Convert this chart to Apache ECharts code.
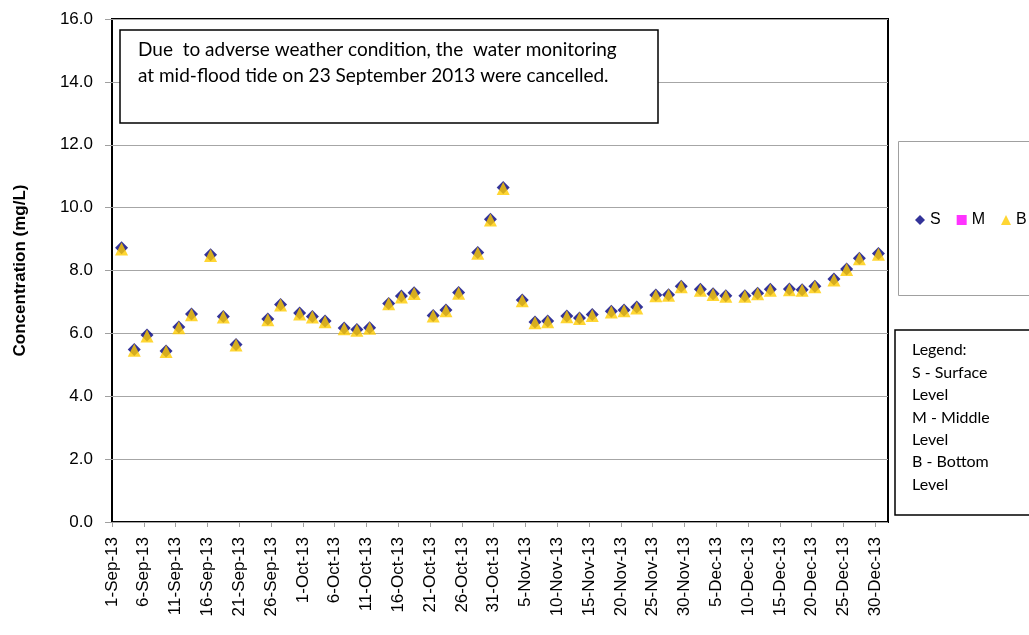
<!DOCTYPE html>
<html>
<head>
<meta charset="utf-8">
<script src="https://cdn.jsdelivr.net/npm/echarts@6/dist/echarts.min.js"></script>
<style>
html,body{margin:0;padding:0;background:#fff;}
#chart{width:1029px;height:635px;}
</style>
</head>
<body>
<div id="chart"></div>
<script>
// ---- Data ----
const sampleDates = [
  '2013-09-02','2013-09-04','2013-09-06','2013-09-09','2013-09-11','2013-09-13','2013-09-16','2013-09-18','2013-09-20',
  '2013-09-25','2013-09-27','2013-09-30',
  '2013-10-02','2013-10-04','2013-10-07','2013-10-09','2013-10-11','2013-10-14','2013-10-16','2013-10-18',
  '2013-10-21','2013-10-23','2013-10-25','2013-10-28','2013-10-30',
  '2013-11-01','2013-11-04','2013-11-06','2013-11-08','2013-11-11','2013-11-13','2013-11-15','2013-11-18',
  '2013-11-20','2013-11-22','2013-11-25','2013-11-27','2013-11-29',
  '2013-12-02','2013-12-04','2013-12-06','2013-12-09','2013-12-11','2013-12-13','2013-12-16','2013-12-18',
  '2013-12-20','2013-12-23','2013-12-25','2013-12-27','2013-12-30'
];
const surfaceValues = [
  8.72,5.49,5.95,5.44,6.20,6.62,8.50,6.54,5.65,
  6.46,6.92,6.65,
  6.54,6.39,6.17,6.12,6.18,6.95,7.19,7.29,
  6.57,6.74,7.30,8.57,9.63,
  10.64,7.06,6.36,6.39,6.55,6.49,6.60,6.70,
  6.74,6.84,7.22,7.23,7.50,
  7.40,7.26,7.20,7.20,7.28,7.40,7.41,7.39,
  7.50,7.73,8.05,8.39,8.54
];
const middleValues = []; // no middle-level points appear in the reference
const bottomValues = [
  8.68,5.46,5.92,5.42,6.18,6.59,8.48,6.52,5.63,
  6.43,6.90,6.62,
  6.52,6.37,6.15,6.10,6.16,6.94,7.16,7.27,
  6.55,6.72,7.28,8.55,9.61,
  10.61,7.04,6.34,6.37,6.53,6.47,6.57,6.68,
  6.72,6.81,7.20,7.21,7.48,
  7.37,7.24,7.18,7.18,7.26,7.37,7.39,7.37,
  7.48,7.70,8.03,8.37,8.52
];
const seriesNames = ['S','M','B'];
const axisStart = '2013-09-01';
const axisEnd = '2014-01-01';
const yTicks = ['0.0','2.0','4.0','6.0','8.0','10.0','12.0','14.0','16.0'];
const noteLines = ['Due  to adverse weather condition, the  water monitoring','at mid-flood tide on 23 September 2013 were cancelled.'];
const legendNoteLines = ['Legend:','S - Surface','Level','M - Middle','Level','B - Bottom','Level'];
const monthNames = ['Jan','Feb','Mar','Apr','May','Jun','Jul','Aug','Sep','Oct','Nov','Dec'];

// ---- helpers ----
function toUTC(s){ const p = s.split('-').map(Number); return Date.UTC(p[0], p[1]-1, p[2]); }
const DAY = 86400000;
const startMs = toUTC(axisStart);
function dayIndex(s){ return (toUTC(s) - startMs) / DAY; }
function dayLabel(v){
  const d = new Date(startMs + v * DAY);
  return d.getUTCDate() + '-' + monthNames[d.getUTCMonth()] + '-' + String(d.getUTCFullYear()).slice(2);
}
// points sit in the middle of their day slot (date-axis style)
function pairs(vals){ return vals.map((v,i)=>[dayIndex(sampleDates[i]) + 0.5, v]); }

const chart = echarts.init(document.getElementById('chart'), null, {renderer:'canvas'});
const AX_FONT = 'Liberation Sans, Arial, sans-serif';
const NOTE_FONT = 'Lato, Carlito, sans-serif';

const option = {
  animation: false,
  backgroundColor: '#fff',
  grid: { left: 112, right: 141, top: 19, bottom: 113, show: true, borderColor: '#000', borderWidth: 2, backgroundColor: 'transparent' },
  xAxis: {
    type: 'value',
    min: 0,
    max: dayIndex(axisEnd),
    interval: 5,
    axisLine: { show: false },
    axisTick: { show: true, inside: false, length: 5, lineStyle: { color: '#a0a0a0', width: 1 } },
    splitLine: { show: false },
    axisLabel: {
      rotate: 90, margin: 15, color: '#000', fontFamily: AX_FONT, fontSize: 17,
      showMaxLabel: false,
      formatter: function(v){ return (v % 5 === 0) ? dayLabel(v) : ''; }
    }
  },
  yAxis: {
    type: 'value',
    min: 0, max: 16, interval: 2,
    name: 'Concentration (mg/L)',
    nameLocation: 'middle',
    nameGap: 83,
    nameTextStyle: { fontFamily: AX_FONT, fontSize: 17, fontWeight: 'bold', color: '#000' },
    axisLine: { show: false },
    axisTick: { show: true, length: 7, lineStyle: { color: '#a0a0a0', width: 1 } },
    splitLine: { show: true, lineStyle: { color: '#a6a6a6', width: 1 } },
    axisLabel: {
      margin: 19, color: '#000', fontFamily: AX_FONT, fontSize: 17,
      formatter: function(v){ return yTicks[Math.round(v/2)]; }
    }
  },
  legend: {
    data: seriesNames,
    orient: 'horizontal',
    left: 915, top: 212, width: 300, padding: 0,
    itemWidth: 10, itemHeight: 10, itemGap: 16,
    textStyle: { fontFamily: AX_FONT, fontSize: 16, color: '#000' },
    z: 20
  },
  graphic: [
    { type: 'rect', z: 5, shape: { x: 120, y: 30, width: 538, height: 93 }, style: { fill: '#fff', stroke: '#000', lineWidth: 1.5 } },
    { type: 'text', z: 6, left: 138, top: 37, style: { text: noteLines.join('\n'), fontFamily: NOTE_FONT, fontSize: 19, lineHeight: 26, fill: '#000' } },
    { type: 'rect', z: 1, shape: { x: 898.5, y: 141.5, width: 150, height: 154 }, style: { fill: '#fff', stroke: '#a0a0a0', lineWidth: 1 } },
    { type: 'rect', z: 1, shape: { x: 895, y: 330, width: 150, height: 185 }, style: { fill: '#fff', stroke: '#000', lineWidth: 1.5 } },
    { type: 'text', z: 2, left: 912, top: 339, style: { text: legendNoteLines.join('\n'), fontFamily: NOTE_FONT, fontSize: 16, lineHeight: 22.4, fill: '#000' } }
  ],
  series: [
    { name: 'S', type: 'scatter', symbol: 'diamond', symbolSize: 13, itemStyle: { color: '#000080' }, data: pairs(surfaceValues), z: 2 },
    { name: 'M', type: 'scatter', symbol: 'rect', symbolSize: 9, itemStyle: { color: '#FF00FF' }, data: pairs(middleValues), z: 3 },
    { name: 'B', type: 'scatter', symbol: 'triangle', symbolSize: 13, itemStyle: { color: '#FFCC00' }, data: pairs(bottomValues), z: 4 }
  ]
};
chart.setOption(option);
</script>
</body>
</html>
